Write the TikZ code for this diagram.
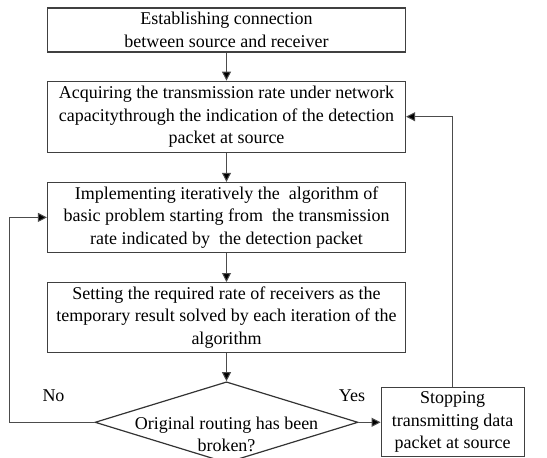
\documentclass[tikz,border=0pt]{standalone}
\usepackage{fontspec}
\setmainfont{Liberation Serif}
\usetikzlibrary{shapes.geometric,arrows.meta,positioning}

\begin{document}
\begin{tikzpicture}[x=1pt,y=-1pt,
    box/.style={draw=black!75,line width=1.2pt,minimum width=358pt,align=center,
      font=\fontsize{18}{22.5}\selectfont},
    decision/.style={diamond,draw=black!80,line width=1.2pt,minimum width=263pt,
      minimum height=81pt,inner sep=0pt},
    arr/.style={draw=black!70,line width=1pt,-{Triangle[length=9pt,width=9pt,fill=black]}},
    lbl/.style={font=\fontsize{18}{22.5}\selectfont}]
    \useasboundingbox (0,0) rectangle (547,458);
    \node [box,minimum height=44pt] (estab) at (226.5,30) {Establishing connection\\between source and receiver};
    \node [box,minimum height=71pt,below=28pt of estab] (acquire) {Acquiring the transmission rate under network\\capacitythrough the indication of the detection\\packet at source};
    \node [box,minimum height=70pt,below=29pt of acquire] (impl) {Implementing iteratively the~ algorithm of\\basic problem starting from~ the transmission\\rate indicated by~ the detection packet};
    \node [box,minimum height=70pt,below=29pt of impl] (setrate) {Setting the required rate of receivers as the\\temporary result solved by each iteration of the\\algorithm};
    \node [decision,below=28pt of setrate] (broken) {};
    \node [lbl,align=center] (brokentxt) at ([yshift=-12pt]broken.center) {Original routing has been\\broken?};
    \node [box,minimum width=143pt,minimum height=69pt,right=22pt of broken] (stop) {Stopping\\transmitting data\\packet at source};
    \node [lbl] (no) at (53.5,396) {No};
    \node [lbl] (yes) at (352,396) {Yes};

    \draw [arr] (estab) -- (acquire);
    \draw [arr] (acquire) -- (impl);
    \draw [arr] (impl) -- (setrate);
    \draw [arr] (setrate) -- (broken);
    \draw [arr] (broken.east) -- (stop.west);
    \draw [arr] (stop.north) |- (acquire.east);
    \draw [arr] (broken.west) -- ++(left:85pt) |- (impl.west);
\end{tikzpicture}
\end{document}
